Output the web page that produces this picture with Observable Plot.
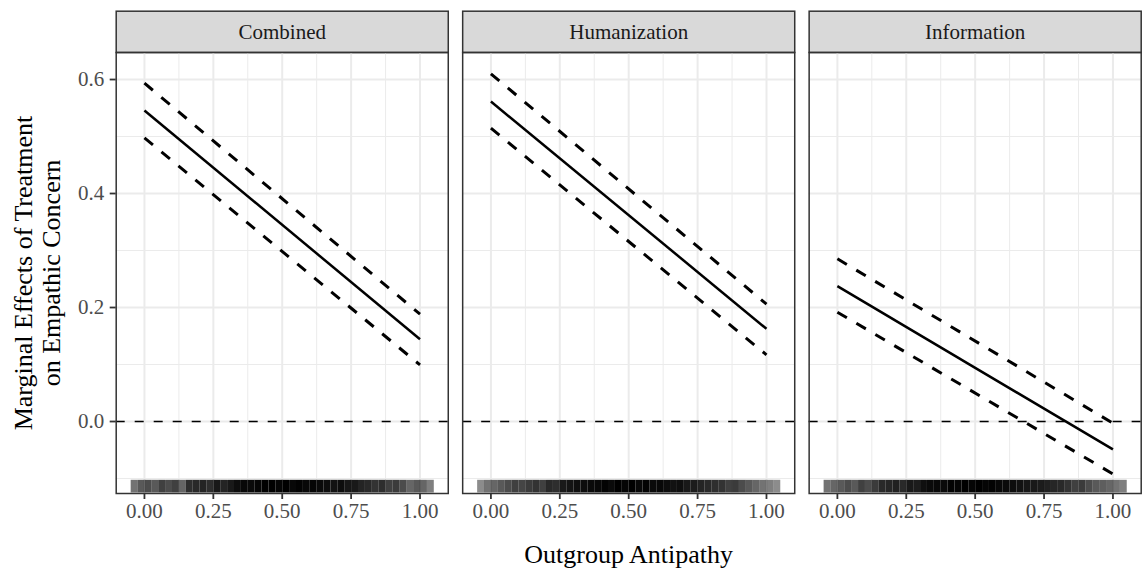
<!DOCTYPE html>
<html>
<head>
<meta charset="utf-8">
<script src="https://cdn.jsdelivr.net/npm/d3@7"></script>
<script src="https://cdn.jsdelivr.net/npm/@observablehq/plot@0.6"></script>
<style>
  html, body { margin: 0; padding: 0; background: white; }
</style>
</head>
<body>
<div id="chart"></div>
<script>
// ---- data ----
const panels = ["Combined", "Humanization", "Information"];
const xEnds = [0, 1];
const estStart = [0.5455, 0.5614, 0.2374];
const estEnd   = [0.1444, 0.1626, -0.049];
const upStart  = [0.5936, 0.610, 0.2854];
const upEnd    = [0.1883, 0.206, -0.003];
const loStart  = [0.4975, 0.5146, 0.1918];
const loEnd    = [0.0993, 0.117, -0.092];

const xTicks = [0, 0.25, 0.5, 0.75, 1];
const xMinor = [0.125, 0.375, 0.625, 0.875];
const yTicks = [0, 0.2, 0.4, 0.6];
const yMinor = [-0.1, 0.1, 0.3, 0.5];

// rug: bin centres of Outgroup Antipathy (jittered) and shading
const rugX = [-0.0375,-0.0125,0.0125,0.0375,0.0625,0.0875,0.1125,0.1375,0.1625,0.1875,0.2125,0.2375,0.2625,0.2875,0.3125,0.3375,0.3625,0.3875,0.4125,0.4375,0.4625,0.4875,0.5125,0.5375,0.5625,0.5875,0.6125,0.6375,0.6625,0.6875,0.7125,0.7375,0.7625,0.7875,0.8125,0.8375,0.8625,0.8875,0.9125,0.9375,0.9625,0.9875,1.0125,1.0375];
const rugCombined = [0.55,0.65,0.7,0.65,0.75,0.7,0.75,0.6,0.82,0.84,0.86,0.82,0.9,0.86,0.9,0.95,0.97,0.96,0.98,1,1,0.98,1,0.97,0.99,0.97,0.98,0.96,0.95,0.93,0.95,0.91,0.9,0.86,0.84,0.8,0.82,0.75,0.77,0.7,0.6,0.65,0.6,0.5];
const rugHumanization = [0.45,0.55,0.6,0.65,0.7,0.75,0.73,0.77,0.8,0.75,0.84,0.82,0.9,0.92,0.94,0.95,0.96,0.97,0.99,0.96,1,0.98,1,0.97,0.99,0.96,0.97,0.95,0.93,0.94,0.9,0.89,0.86,0.84,0.82,0.8,0.75,0.77,0.7,0.65,0.6,0.55,0.5,0.45];
const rugInformation = [0.55,0.6,0.65,0.7,0.65,0.75,0.7,0.77,0.84,0.85,0.87,0.84,0.9,0.89,0.94,0.96,0.97,0.96,0.99,0.98,1,0.98,1,0.98,0.99,0.97,0.96,0.95,0.93,0.91,0.9,0.89,0.87,0.85,0.84,0.8,0.75,0.77,0.7,0.65,0.63,0.6,0.55,0.5];

// ---- tables built from the arrays ----
function series(starts, ends) {
  const rows = [];
  panels.forEach((p, i) => {
    rows.push({panel: p, x: xEnds[0], y: starts[i]});
    rows.push({panel: p, x: xEnds[1], y: ends[i]});
  });
  return rows;
}
const estRows = series(estStart, estEnd);
const ciRows = [
  ...series(upStart, upEnd).map(d => ({...d, band: "upper"})),
  ...series(loStart, loEnd).map(d => ({...d, band: "lower"}))
];
const rugShade = [rugCombined, rugHumanization, rugInformation];
const rugRows = [];
panels.forEach((p, i) => rugX.forEach((x, j) => rugRows.push({panel: p, x, a: rugShade[i][j]})));

const W = 1145, H = 570;
const mL = 115.7, mR = 4.3, mT = 52, mB = 77;
const panelH = H - mT - mB;
const font = "'Liberation Serif', 'DejaVu Serif', serif";

const chart = Plot.plot({
  width: W,
  height: H,
  marginLeft: mL,
  marginRight: mR,
  marginTop: mT,
  marginBottom: mB,
  style: {fontFamily: font, background: "white", overflow: "visible"},
  fx: {domain: panels, paddingInner: 0.0416, paddingOuter: 0, round: false, axis: null},
  x: {domain: [-0.1025, 1.1025], nice: false},
  y: {domain: [-0.1263, 0.6474], nice: false},
  opacity: {type: "identity"},
  marks: [
    // strip boxes
    Plot.frame({fill: "#d9d9d9", stroke: "#333333", strokeWidth: 1.5, insetTop: -41.3, insetBottom: panelH}),
    // grid
    Plot.gridX(xMinor, {stroke: "#ebebeb", strokeOpacity: 1, strokeWidth: 1}),
    Plot.gridY(yMinor, {stroke: "#ebebeb", strokeOpacity: 1, strokeWidth: 1}),
    Plot.gridX(xTicks, {stroke: "#ebebeb", strokeOpacity: 1, strokeWidth: 2}),
    Plot.gridY(yTicks, {stroke: "#ebebeb", strokeOpacity: 1, strokeWidth: 2}),
    // rug
    Plot.tickX(rugRows, {x: "x", fx: "panel", stroke: "black", strokeOpacity: "a", strokeWidth: 6.9, insetTop: panelH - 13.2, insetBottom: 0.5}),
    // zero reference
    Plot.ruleY([0], {stroke: "black", strokeWidth: 1.3, strokeDasharray: "9,10"}),
    // CI lines
    Plot.line(ciRows, {x: "x", y: "y", z: "band", fx: "panel", stroke: "black", strokeWidth: 3, strokeDasharray: "11,11", strokeLinecap: "butt"}),
    // estimate
    Plot.line(estRows, {x: "x", y: "y", fx: "panel", stroke: "black", strokeWidth: 2.5, strokeLinecap: "butt"}),
    // panel border
    Plot.frame({stroke: "#333333", strokeWidth: 1.5}),
    // axes
    Plot.axisX({ticks: xTicks, tickFormat: d3.format(".2f"), fontSize: 21, tickSize: 6, tickPadding: 4, stroke: "#333333", strokeWidth: 1.8, fill: "#4d4d4d", label: null}),
    Plot.axisY({ticks: yTicks, tickFormat: d3.format(".1f"), fontSize: 21, tickSize: 6, tickPadding: 6, stroke: "#333333", strokeWidth: 1.8, fill: "#4d4d4d", label: null}),
    // strip labels
    Plot.text(panels, {fx: d => d, text: d => d, frameAnchor: "top", dy: -20.7, fontSize: 21, fill: "#1a1a1a", lineAnchor: "middle"}),
    // axis titles
    Plot.text(["Outgroup Antipathy"], {fx: () => panels[1], text: d => d, frameAnchor: "bottom", dy: 61, fontSize: 26, fill: "black", lineAnchor: "middle"}),
    Plot.text(["Marginal Effects of Treatment\non Empathic Concern"], {fx: () => panels[0], text: d => d, frameAnchor: "left", dx: -79.5, rotate: -90, fontSize: 26, lineHeight: 1.1, fill: "black", lineAnchor: "middle", textAnchor: "middle"})
  ]
});
document.getElementById("chart").appendChild(chart);
</script>
</body>
</html>
